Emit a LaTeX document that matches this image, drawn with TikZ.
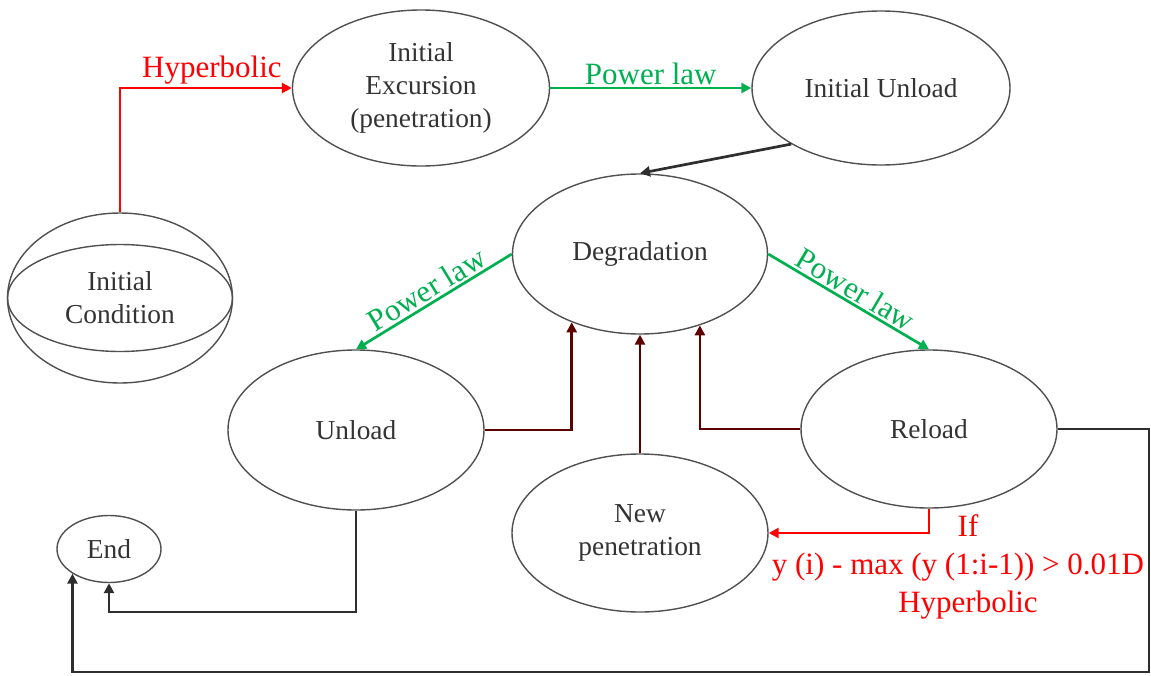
\documentclass[tikz,border=0pt]{standalone}
\usepackage{fontspec}
\setmainfont{Liberation Serif}
\usetikzlibrary{shapes.geometric,arrows.meta}
\definecolor{txtgray}{HTML}{333333}
\definecolor{linegray}{HTML}{2E2E2E}
\definecolor{ellgray}{HTML}{505050}
\definecolor{lawgreen}{HTML}{00B050}
\definecolor{hypred}{HTML}{FF0000}
\definecolor{darkred}{HTML}{5E0000}
\begin{document}
\begin{tikzpicture}[x=0.5pt,y=-0.5pt,
  stnode/.style={ellipse, draw=ellgray, line width=0.7pt, inner sep=0pt, text=txtgray,
    align=center, font=\fontsize{13.7}{16.5}\selectfont},
  conn/.style={line width=1.35pt, -{Triangle[length=5pt,width=5pt]}},
  lab/.style={font=\fontsize{15.5}{19}\selectfont, inner sep=1pt}]
\useasboundingbox (0,0) rectangle (1151,675);
% nodes
\node[stnode, minimum width=112.5pt, minimum height=85pt] (ic) at (120,298) {Initial\\Condition};
\draw[ellgray, line width=0.7pt] (ic.center) ellipse [x radius=112.5, y radius=53.5];
\node[stnode, minimum width=128.5pt, minimum height=78pt] (ie) at (421,88) {Initial\\Excursion\\(penetration)};
\node[stnode, minimum width=129pt, minimum height=77pt] (iu) at (881,88) {Initial Unload};
\node[stnode, minimum width=127.5pt, minimum height=80pt] (deg) at (640,254) {Degradation};
\node[stnode, minimum width=128pt, minimum height=80pt] (un) at (356,430) {Unload};
\node[stnode, minimum width=128pt, minimum height=79pt] (rl) at (929,429) {Reload};
\node[stnode, minimum width=128pt, minimum height=79pt] (np) at (640,533) {New\\penetration};
\node[stnode, minimum width=52pt, minimum height=33.5pt] (end) at (109,549) {End};
% helper coordinates
\coordinate (ybotA) at (0,612);
\coordinate (ybotB) at (0,672);
\coordinate (xright) at (1149,0);
% connectors
\draw[conn, hypred] (ic.north) |- node[lab, above, pos=0.75, xshift=3pt, text=hypred] {Hyperbolic} (ie.west);
\draw[conn, lawgreen] (ie.east) -- node[lab, above, text=lawgreen] {Power law} (iu.west);
\draw[conn, linegray] (iu.212) -- (deg.north);
\draw[conn, lawgreen] (deg.west) -- node[lab, sloped, above, text=lawgreen] {Power law} (un.north);
\draw[conn, lawgreen] (deg.east) -- node[lab, sloped, above, text=lawgreen] {Power law} (rl.north);
\draw[conn, darkred] (un.east) -| (deg.225);
\draw[conn, darkred] (np.north) -- (deg.south);
\draw[conn, darkred] (rl.west) -| (deg.310);
\draw[conn, hypred] (rl.south) |- (np.east);
\node[lab, text=hypred, align=center] (cond) at (958,567) {\hspace*{10pt}If\\y (i) - max (y (1:i-1)) {\char`>} 0.01D\\\hspace*{10pt}Hyperbolic};
\draw[conn, linegray] (un.south) -- (un.south |- ybotA) -- (end.south |- ybotA) -- (end.south);
\draw[conn, linegray] (rl.east) -- (rl.east -| xright) -- (xright |- ybotB) -- (end.214 |- ybotB) -- (end.214);
\end{tikzpicture}
\end{document}
